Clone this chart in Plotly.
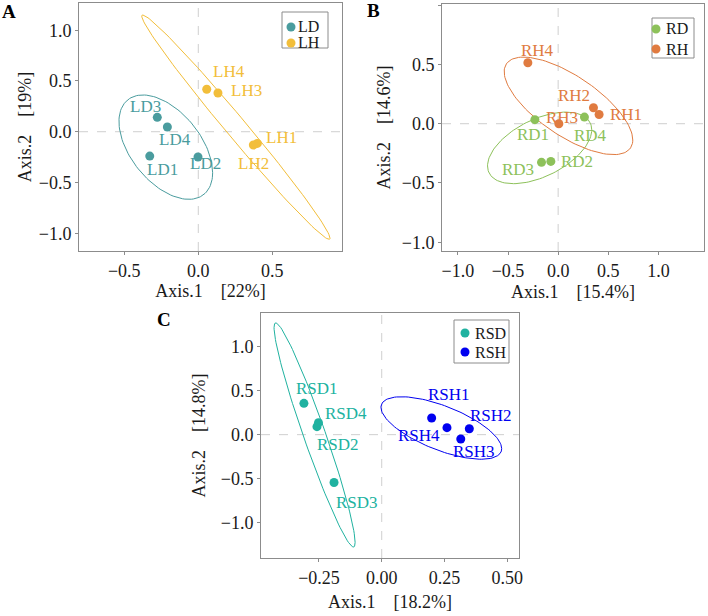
import numpy as np
import plotly.graph_objects as go

# ---------------- data ----------------
LD_names = ["LD1", "LD2", "LD3", "LD4"]
LD_x = [-0.328, -0.002, -0.277, -0.209]
LD_y = [-0.240, -0.249, 0.142, 0.046]
LH_names = ["LH1", "LH2", "LH3", "LH4"]
LH_x = [0.399, 0.372, 0.133, 0.057]
LH_y = [-0.115, -0.131, 0.381, 0.418]

RD_names = ["RD1", "RD2", "RD3", "RD4"]
RD_x = [-0.232, -0.073, -0.166, 0.262]
RD_y = [0.034, -0.318, -0.326, 0.056]
RH_names = ["RH1", "RH2", "RH3", "RH4"]
RH_x = [0.408, 0.352, 0.007, -0.302]
RH_y = [0.078, 0.135, 0.000, 0.514]

RSD_names = ["RSD1", "RSD2", "RSD3", "RSD4"]
RSD_x = [-0.310, -0.258, -0.190, -0.252]
RSD_y = [0.357, 0.091, -0.545, 0.137]
RSH_names = ["RSH1", "RSH2", "RSH3", "RSH4"]
RSH_x = [0.199, 0.349, 0.315, 0.260]
RSH_y = [0.190, 0.068, -0.049, 0.080]

# confidence ellipses: centre x, centre y, half extents, correlation
ELL_groups = ["LD", "LH", "RD", "RH", "RSD", "RSH"]
ELL_cx = [-0.2195, 0.254, -0.1845, 0.103, -0.2675, 0.2375]
ELL_cy = [-0.152, 0.045, -0.204, 0.1505, -0.0035, 0.076]
ELL_hx = [0.3165, 0.636, 0.5195, 0.641, 0.1615, 0.2405]
ELL_hy = [0.514, 1.105, 0.302, 0.4115, 1.277, 0.356]
ELL_r = [-0.49, -0.990, 0.504, -0.70, -0.958, -0.66]

A_xtitle, A_ytitle = "Axis.1    [22%]", "Axis.2    [19%]"
B_xtitle, B_ytitle = "Axis.1    [15.4%]", "Axis.2    [14.6%]"
C_xtitle, C_ytitle = "Axis.1    [18.2%]", "Axis.2    [14.8%]"

# ---------------- styles ----------------
COL = {"LD": "#4a9c9e", "LH": "#f2be3a", "RD": "#8dc15a", "RH": "#e07b40",
       "RSD": "#20b2a0", "RSH": "#0000f0"}
FONT = "Liberation Serif"
TXT = "#1a1a1a"
FRAME = "#8c8c8c"

# label offsets in px (dx right, dy down)
OFF = {
    "LD1": (13, 13), "LD2": (8, 6), "LD3": (-12, -11), "LD4": (8, 12),
    "LH1": (24, -6), "LH2": (0, 18), "LH3": (29, -3), "LH4": (22, -18),
    "RD1": (-2, 15), "RD2": (26, 0), "RD3": (-24, 7), "RD4": (6, 18),
    "RH1": (27, 0), "RH2": (-19, -12), "RH3": (3, -6), "RH4": (10, -12),
    "RSD1": (13, -15), "RSD2": (21, 18), "RSD3": (23, 20), "RSD4": (28, -9),
    "RSH1": (17, -23), "RSH2": (22, -13), "RSH3": (13, 13), "RSH4": (-28, 8),
}


def ellipse(g, segments=120):
    i = ELL_groups.index(g)
    hx, hy, r = ELL_hx[i], ELL_hy[i], ELL_r[i]
    cov = np.array([[hx * hx, r * hx * hy], [r * hx * hy, hy * hy]])
    L = np.linalg.cholesky(cov)
    t = np.linspace(0, 2 * np.pi, segments + 1)
    pts = L @ np.vstack([np.cos(t), np.sin(t)])
    return ELL_cx[i] + pts[0], ELL_cy[i] + pts[1]


fig = go.Figure()

W, H = 708, 616
panels = [
    dict(ax="", groups=[("LD", LD_names, LD_x, LD_y), ("LH", LH_names, LH_x, LH_y)],
         xr=[-0.806, 0.971], yr=[-1.175, 1.268],
         xt=[-0.5, 0.0, 0.5], yt=[-1.0, -0.5, 0.0, 0.5, 1.0], xfmt=".1f", yfmt=".1f",
         xd=[79 / W, 342 / W], yd=[1 - 251 / H, 1 - 3 / H],
         xtitle=A_xtitle, ytitle=A_ytitle, xso=2, yso=2,
         leg=dict(box=(282, 12, 328, 48), mx=291, ys=(27, 43), tx=296, fs=16)),
    dict(ax="2", groups=[("RD", RD_names, RD_x, RD_y), ("RH", RH_names, RH_x, RH_y)],
         xr=[-1.158, 1.454], yr=[-1.074, 1.01],
         xt=[-1.0, -0.5, 0.0, 0.5, 1.0], yt=[-1.0, -0.5, 0.0, 0.5, 1.0], xfmt=".1f", yfmt=".1f",
         xd=[442 / W, 704 / W], yd=[1 - 251 / H, 1 - 4 / H],
         xtitle=B_xtitle, ytitle=B_ytitle, xso=5, yso=6,
         leg=dict(box=(652, 18, 694, 58), mx=656, ys=(29, 49), tx=664, fs=16)),
    dict(ax="3", groups=[("RSD", RSD_names, RSD_x, RSD_y), ("RSH", RSH_names, RSH_x, RSH_y)],
         xr=[-0.481, 0.547], yr=[-1.405, 1.386],
         xt=[-0.25, 0.0, 0.25, 0.5], yt=[-1.0, -0.5, 0.0, 0.5, 1.0], xfmt=".2f", yfmt=".1f",
         xd=[261 / W, 519 / W], yd=[1 - 558 / H, 1 - 313 / H],
         xtitle=C_xtitle, ytitle=C_ytitle, xso=8, yso=10,
         leg=dict(box=(454, 320, 509, 363), mx=465, ys=(333, 352), tx=473, fs=16)),
]

annotations = []
shapes = []
layout_axes = {}
for p in panels:
    xa, ya = "x" + p["ax"], "y" + p["ax"]
    # dashed zero lines
    shapes.append(dict(type="line", xref=xa, yref=ya + " domain", x0=0, x1=0, y0=0, y1=1,
                       line=dict(color="#cfcfcf", width=1, dash="dash"), layer="below"))
    shapes.append(dict(type="line", xref=xa + " domain", yref=ya, x0=0, x1=1, y0=0, y1=0,
                       line=dict(color="#cfcfcf", width=1, dash="dash"), layer="below"))
    for g, names, xs, ys in p["groups"]:
        ex, ey = ellipse(g)
        fig.add_trace(go.Scatter(x=ex, y=ey, mode="lines", line=dict(color=COL[g], width=1),
                                 xaxis=xa, yaxis=ya, showlegend=False, hoverinfo="skip"))
    for g, names, xs, ys in p["groups"]:
        fig.add_trace(go.Scatter(x=xs, y=ys, mode="markers", name=g, showlegend=False,
                                 marker=dict(color=COL[g], size=9),
                                 xaxis=xa, yaxis=ya, text=names))
        for n, xv, yv in zip(names, xs, ys):
            dx, dy = OFF[n]
            annotations.append(dict(x=xv, y=yv, xref=xa, yref=ya, text=n, showarrow=False,
                                    xshift=dx, yshift=-dy,
                                    font=dict(family=FONT, size=17, color=COL[g])))
    # legend box (manual, compact like the original)
    lg = p["leg"]
    x0, y0, x1, y1 = lg["box"]
    shapes.append(dict(type="rect", xref="paper", yref="paper", x0=x0 / W, x1=x1 / W,
                       y0=1 - y1 / H, y1=1 - y0 / H, line=dict(color=FRAME, width=1),
                       fillcolor="white", layer="above"))
    for (g, names, xs, ys), yy in zip(p["groups"], lg["ys"]):
        shapes.append(dict(type="circle", xref="paper", yref="paper",
                           xsizemode="pixel", ysizemode="pixel",
                           xanchor=lg["mx"] / W, yanchor=1 - yy / H,
                           x0=-4.5, x1=4.5, y0=-4.5, y1=4.5,
                           fillcolor=COL[g], line=dict(width=0), layer="above"))
        annotations.append(dict(x=lg["tx"] / W, y=1 - yy / H, xref="paper", yref="paper",
                                text=g, showarrow=False, xanchor="left", yanchor="middle",
                                font=dict(family=FONT, size=lg["fs"], color=TXT)))
    axcommon = dict(showgrid=False, zeroline=False, showline=True, mirror=True,
                    linecolor=FRAME, linewidth=1, ticks="outside", ticklen=3,
                    tickcolor=FRAME, tickfont=dict(family=FONT, size=18, color=TXT),
                    automargin=False)
    layout_axes["xaxis" + p["ax"]] = dict(axcommon, domain=p["xd"], range=p["xr"],
                                          tickvals=p["xt"], tickformat=p["xfmt"], anchor=ya,
                                          title=dict(text=p["xtitle"], standoff=p["xso"],
                                                     font=dict(family=FONT, size=18, color=TXT)))
    layout_axes["yaxis" + p["ax"]] = dict(axcommon, domain=p["yd"], range=p["yr"],
                                          tickvals=p["yt"], tickformat=p["yfmt"], anchor=xa,
                                          title=dict(text=p["ytitle"], standoff=p["yso"],
                                                     font=dict(family=FONT, size=18, color=TXT)))

for letter, xp, yp in [("A", 9, 12), ("B", 373, 10), ("C", 164, 320)]:
    annotations.append(dict(x=xp / W, y=1 - yp / H, xref="paper", yref="paper",
                            text="<b>" + letter + "</b>",
                            showarrow=False, xanchor="center", yanchor="middle",
                            font=dict(family=FONT, size=19, color="black")))

fig.update_layout(width=W, height=H, margin=dict(l=0, r=0, t=0, b=0, autoexpand=False),
                  plot_bgcolor="white", paper_bgcolor="white", showlegend=False,
                  font=dict(family=FONT, color=TXT),
                  annotations=annotations, shapes=shapes, hovermode=False, **layout_axes)
fig.write_html("out.html", config={"displayModeBar": False},
               post_script="document.body.style.margin='0px';document.body.style.overflow='hidden';")
